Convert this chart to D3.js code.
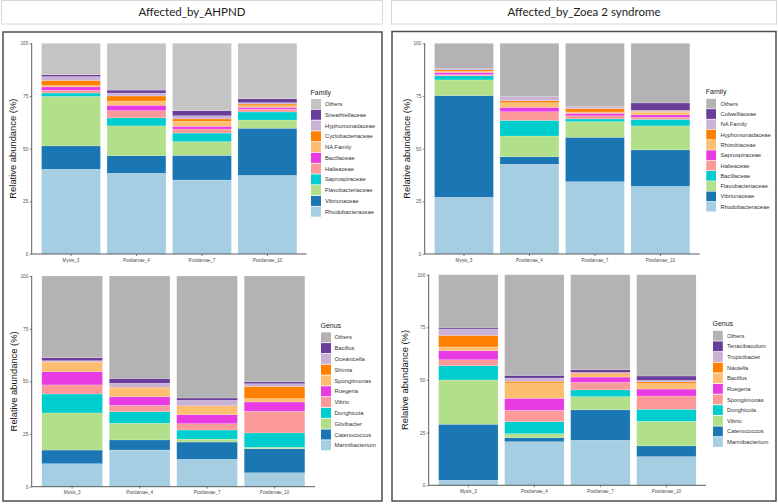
<!DOCTYPE html>
<html><head><meta charset="utf-8">
<script src="https://cdn.jsdelivr.net/npm/d3@7"></script>
<style>body{margin:0;background:#fff} svg{display:block} text{font-family:"Liberation Sans",Arial,sans-serif}</style>
</head><body><svg id="c" width="778" height="504"></svg>
<script>
// ---------- data ----------
const samples = ["Mysis_3", "Postlarvae_4", "Postlarvae_7", "Postlarvae_10"];
const yTickValues = [0, 25, 50, 75, 100];
const groupTitles = ["Affected_by_AHPND", "Affected_by_Zoea 2 syndrome"];
const yAxisTitle = "Relative abundance (%)";

// Family, AHPND (stack order bottom -> top)
const familyAhpndNames = ["Rhodobacteraceae","Vibrionaceae","Flavobacteriaceae","Saprospiraceae","Halieaceae","Bacillaceae","NA Family","Cyclobacteriaceae","Hyphomonadaceae","Sneathiellaceae","Others"];
const familyAhpndValues = [
  [40.2, 38.3, 35.1, 37.3],
  [11.1,  8.4, 11.7, 22.4],
  [23.5, 14.1,  6.5,  3.9],
  [ 1.6,  3.8,  4.1,  3.8],
  [ 1.3,  3.4,  1.9,  1.3],
  [ 1.6,  2.6,  1.3,  0.9],
  [ 0.6,  2.0,  2.4,  0.8],
  [ 2.5,  2.4,  1.1,  0.8],
  [ 1.8,  1.4,  1.5,  0.6],
  [ 0.9,  1.4,  2.4,  1.9],
  [14.9, 22.2, 32.0, 26.3]
];

// Genus, AHPND
const genusAhpndNames = ["Marinibacterium","Catenococcus","Gilvibacter","Donghicola","Vibrio","Ruegeria","Spongiimonas","Shimia","Oceanicella","Bacillus","Others"];
const genusAhpndValues = [
  [10.9, 17.4, 13.0,  6.6],
  [ 6.5,  4.8,  8.2, 11.4],
  [17.6,  7.9,  1.4,  0.7],
  [ 9.0,  5.5,  4.3,  6.8],
  [ 4.3,  3.0,  3.0, 10.3],
  [ 6.3,  4.1,  4.3,  4.4],
  [ 4.4,  4.0,  3.8,  1.6],
  [ 0.3,  0.5,  0.4,  5.8],
  [ 0.5,  1.9,  2.6,  1.3],
  [ 1.4,  2.3,  1.1,  0.9],
  [38.8, 48.6, 57.9, 50.2]
];

// Family, Zoea 2 syndrome
const familyZoeaNames = ["Rhodobacteraceae","Vibrionaceae","Flavobacteriaceae","Bacillaceae","Halieaceae","Saprospiraceae","Rhizobiaceae","Hyphomonadaceae","NA Family","Colwelliaceae","Others"];
const familyZoeaValues = [
  [26.9, 42.6, 34.3, 32.1],
  [48.3,  3.6, 21.1, 17.3],
  [ 7.4,  9.8,  7.4, 11.4],
  [ 2.0,  7.4,  1.3,  3.1],
  [ 0.5,  4.1,  1.5,  1.0],
  [ 1.1,  2.1,  1.2,  1.1],
  [ 0.5,  2.2,  0.6,  1.3],
  [ 0.7,  1.0,  1.6,  0.4],
  [ 0.3,  1.8,  0.8,  0.5],
  [ 0.3,  0.1,  0.1,  3.5],
  [12.0, 25.3, 30.1, 28.3]
];

// Genus, Zoea 2 syndrome
const genusZoeaNames = ["Marinibacterium","Catenococcus","Vibrio","Donghicola","Spongiimonas","Ruegeria","Bacillus","Nautella","Tropicibacter","Tenacibaculum","Others"];
const genusZoeaValues = [
  [ 2.4, 20.7, 21.4, 13.6],
  [26.6,  1.9, 14.4,  5.1],
  [21.0,  1.9,  6.3, 11.7],
  [ 6.8,  5.7,  3.2,  5.7],
  [ 2.8,  5.4,  3.6,  6.3],
  [ 4.3,  5.7,  2.5,  3.3],
  [ 1.8,  7.3,  1.1,  2.6],
  [ 5.5,  0.8,  0.7,  0.8],
  [ 2.9,  1.5,  0.4,  0.7],
  [ 0.6,  1.3,  1.3,  2.1],
  [25.3, 47.8, 45.1, 48.1]
];

// ---------- styling / layout ----------
const palette = ["#a6cee3","#1a77b4","#b2df8a","#00cdcd","#fb9a99","#e93be3","#fdbf6f","#ff7f00","#cab2d6","#6a3d9a","#b3b3b3"];

const svg = d3.select("#c");

// title boxes
const titleBoxes = [{x:1, w:382, cx:192}, {x:391, w:386, cx:584}];
titleBoxes.forEach((b, i) => {
  svg.append("rect").attr("x", b.x + 0.5).attr("y", 0.5).attr("width", b.w - 1).attr("height", 23.5)
    .attr("fill", "#fff").attr("stroke", "#d6d6d6").attr("stroke-width", 1);
  svg.append("text").attr("x", b.cx).attr("y", 16).attr("text-anchor", "middle")
    .style("font-family", "Lato, 'Open Sans', sans-serif").attr("font-size", 11.5).attr("fill", "#222")
    .text(groupTitles[i]);
});
// frames
svg.append("rect").attr("x", 3).attr("y", 32).attr("width", 379).attr("height", 469)
  .attr("fill", "none").attr("stroke", "#4d4d4d").attr("stroke-width", 1.5);
svg.append("rect").attr("x", 392).attr("y", 31.5).attr("width", 384).attr("height", 469.5)
  .attr("fill", "none").attr("stroke", "#4d4d4d").attr("stroke-width", 1.5);

const panels = [
  {names: familyAhpndNames, values: familyAhpndValues, legend: "Family", othersColor: "#c4c4c4",
   ax: 31.7, xEnd: 306.7, yTop: 43.3, yBot: 254, titleX: 13,
   lx: 311, ltitleY: 92.3, lfirst: 104, lstep: 10.77, lkey: 10, llabelX: 325},
  {names: genusAhpndNames, values: genusAhpndValues, legend: "Genus", othersColor: "#b3b3b3",
   ax: 31.7, xEnd: 315, yTop: 276, yBot: 486.7, titleX: 14,
   lx: 321, ltitleY: 325.7, lfirst: 337.3, lstep: 10.8, lkey: 10, llabelX: 334.5},
  {names: familyZoeaNames, values: familyZoeaValues, legend: "Family", othersColor: "#b3b3b3",
   ax: 424.7, xEnd: 699.7, yTop: 43.3, yBot: 254, titleX: 407,
   lx: 706.3, ltitleY: 92, lfirst: 103.7, lstep: 10.3, lkey: 9.7, llabelX: 720.5},
  {names: genusZoeaNames, values: genusZoeaValues, legend: "Genus", othersColor: "#b3b3b3",
   ax: 428.7, xEnd: 706, yTop: 274.7, yBot: 485.3, titleX: 405,
   lx: 713, ltitleY: 323.3, lfirst: 335.7, lstep: 10.63, lkey: 9.8, llabelX: 727}
];

panels.forEach(p => {
  const g = svg.append("g");
  const colors = palette.slice(0, 10).concat([p.othersColor]);
  const rows = samples.map((s, j) => {
    const r = {sample: s};
    p.names.forEach((n, k) => r[n] = p.values[k][j]);
    return r;
  });
  const stacked = d3.stack().keys(p.names)(rows);

  const x = d3.scaleBand().domain(samples).range([p.ax, p.xEnd]).paddingInner(0.1).paddingOuter(0.15);
  const y = d3.scaleLinear().domain([0, 100]).range([p.yBot, p.yTop]);

  g.selectAll("g.series").data(stacked).join("g")
    .attr("fill", (d, i) => colors[i])
    .selectAll("rect").data(d => d).join("rect")
    .attr("x", d => x(d.data.sample))
    .attr("width", x.bandwidth())
    .attr("y", d => y(d[1]))
    .attr("height", d => Math.max(0, y(d[0]) - y(d[1])))
    .attr("stroke", "#ffffff").attr("stroke-width", 0.35).attr("stroke-opacity", 0.55);

  // axes
  const yAxis = g.append("g").attr("transform", `translate(${p.ax},0)`)
    .call(d3.axisLeft(y).tickValues(yTickValues).tickSize(2).tickPadding(1.5).tickFormat(d3.format("d")));
  const xAxis = g.append("g").attr("transform", `translate(0,${p.yBot})`)
    .call(d3.axisBottom(x).tickSize(2).tickPadding(2.5).tickSizeOuter(0));
  [yAxis, xAxis].forEach(a => {
    a.select(".domain").attr("stroke", "#333").attr("stroke-width", 0.8);
    a.selectAll(".tick line").attr("stroke", "#333").attr("stroke-width", 0.6);
    a.selectAll(".tick text").attr("fill", "#4d4d4d").attr("font-size", 4.6)
      .style("font-family", "'Liberation Sans', Arial, sans-serif");
  });
  xAxis.select(".domain").attr("d", `M${p.ax},0H${p.xEnd}`);
  yAxis.select(".domain").attr("d", `M0,${p.yBot}V${p.yTop}`);

  // y axis title
  g.append("text")
    .attr("transform", `translate(${p.titleX},${(p.yTop + p.yBot) / 2}) rotate(-90)`)
    .attr("text-anchor", "middle").attr("dy", "0.35em")
    .attr("font-size", 9.4).attr("fill", "#111").text(yAxisTitle);

  // legend
  const lg = g.append("g");
  lg.append("text").attr("x", p.lx - 0.5).attr("y", p.ltitleY).attr("dy", "0.35em")
    .attr("font-size", 7).attr("fill", "#222").text(p.legend);
  const items = p.names.map((n, i) => ({name: n, color: colors[i]})).reverse();
  const it = lg.selectAll("g.item").data(items).join("g")
    .attr("transform", (d, i) => `translate(${p.lx},${p.lfirst + i * p.lstep})`);
  it.append("rect").attr("x", 0).attr("y", -p.lkey / 2).attr("width", p.lkey).attr("height", p.lkey)
    .attr("fill", d => d.color);
  it.append("text").attr("x", p.llabelX - p.lx).attr("y", 0).attr("dy", "0.35em")
    .attr("font-size", 5.8).attr("fill", "#333").text(d => d.name);
});
</script>
</body></html>
